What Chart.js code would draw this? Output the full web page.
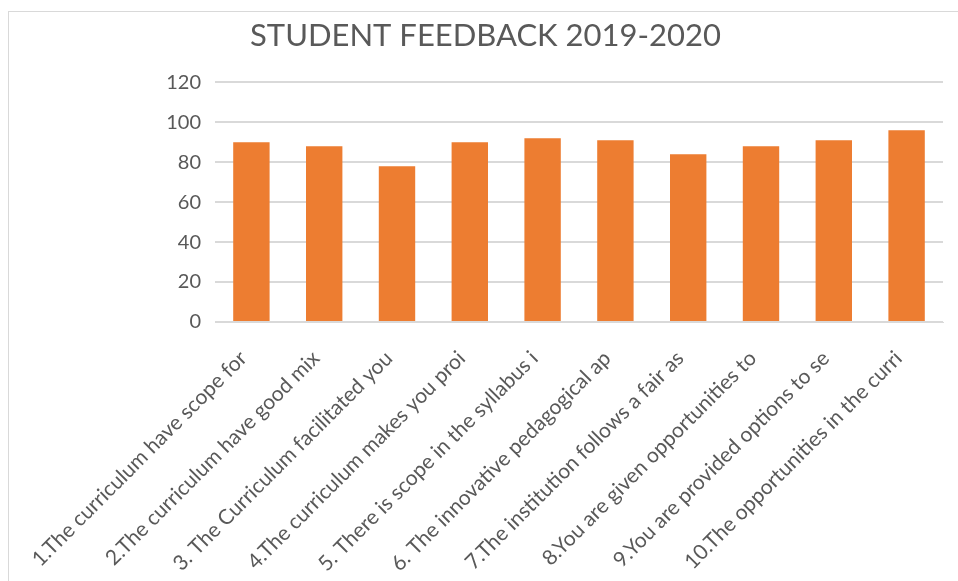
<!DOCTYPE html>
<html>
<head>
<meta charset="utf-8">
<script src="https://cdn.jsdelivr.net/npm/chart.js@4/dist/chart.umd.min.js"></script>
<style>
  html, body { margin: 0; padding: 0; background: #fff; overflow: hidden; }
  #wrap { position: relative; width: 958px; height: 581px; }
  #frame { position: absolute; left: 8px; top: 11px; width: 980px; height: 620px; border: 1px solid #d9d9d9; }
  canvas { position: absolute; left: 0; top: 0; }
</style>
</head>
<body>
<div id="wrap">
  <div id="frame"></div>
  <canvas id="feedbackChart" width="958" height="581"></canvas>
</div>
<script>
const questions = [
  "1.The curriculum have scope for",
  "2.The curriculum have good mix",
  "3. The Curriculum facilitated you",
  "4.The curriculum makes you proi",
  "5. There is scope in the syllabus i",
  "6. The innovative pedagogical ap",
  "7.The institution follows a fair as",
  "8.You are given opportunities to",
  "9.You are provided options to se",
  "10.The opportunities in the curri"
];
const scores = [90, 88, 78, 90, 92, 91, 84, 88, 91, 96];
const yTicks = [0, 20, 40, 60, 80, 100, 120];

const textGrey = '#595959';
const gridGrey = '#d9d9d9';

const ctx = document.getElementById('feedbackChart').getContext('2d');
new Chart(ctx, {
  type: 'bar',
  data: {
    labels: questions,
    datasets: [{
      label: 'Feedback',
      data: scores,
      backgroundColor: '#ED7D31',
      borderWidth: 0,
      barPercentage: 0.5,
      categoryPercentage: 1.0
    }]
  },
  options: {
    responsive: false,
    animation: false,
    layout: { padding: { left: 28, right: 15, top: 0, bottom: 0 } },
    plugins: {
      legend: { display: false },
      tooltip: { enabled: false },
      title: {
        display: true,
        text: 'STUDENT FEEDBACK 2019-2020',
        color: textGrey,
        font: { family: 'Lato', size: 31, weight: 'normal' },
        padding: { top: 17, bottom: 28 }
      }
    },
    scales: {
      x: {
        grid: { display: false },
        border: { display: true, color: gridGrey },
        ticks: {
          color: textGrey,
          font: { family: 'Lato', size: 21 },
          minRotation: 45,
          maxRotation: 45,
          autoSkip: false,
          padding: 16,
          labelOffset: -8
        },
        afterFit: (scale) => {
          scale.height = 259;
          scale.paddingLeft = 0;
          scale.paddingRight = 0;
        }
      },
      y: {
        min: 0,
        max: 120,
        afterBuildTicks: (scale) => {
          scale.ticks = yTicks.map(v => ({ value: v }));
        },
        grid: { color: gridGrey, drawTicks: false, lineWidth: 2 },
        border: { display: false },
        ticks: {
          color: textGrey,
          font: { family: 'Lato', size: 20 },
          padding: 14
        },
        afterFit: (scale) => {
          scale.width = 187;
        }
      }
    }
  }
});
</script>
</body>
</html>
